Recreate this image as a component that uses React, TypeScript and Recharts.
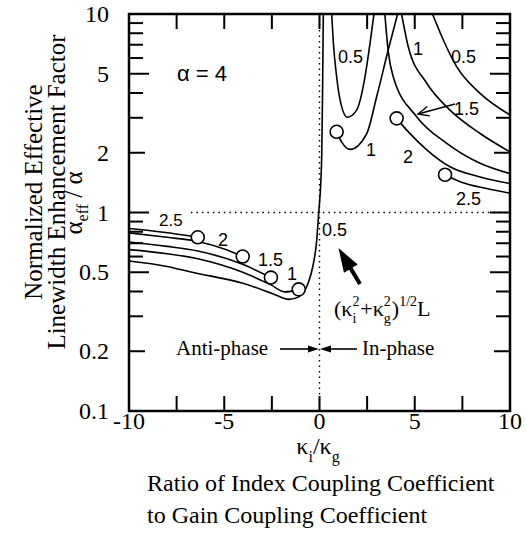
import React from 'react';
import { ComposedChart, Line, Scatter, XAxis, YAxis, ReferenceLine } from 'recharts';

const X_TICKS = [-10, -7.5, -5, -2.5, 0, 2.5, 5, 7.5, 10];
const X_LABELS = [-10, -5, 0, 5, 10];
const Y_TICKS = [0.1, 0.2, 0.3, 0.4, 0.5, 0.6, 0.7, 0.8, 0.9, 1, 2, 3, 4, 5, 6, 7, 8, 9, 10];
const Y_LABELS = [0.1, 0.2, 0.5, 1, 2, 5, 10];

// anti-phase side (kappa_i/kappa_g < 0), one list per (ki^2+kg^2)^1/2 L
const anti25 = [
  { x: -10, y: 0.83 }, { x: -8.2, y: 0.795 }, { x: -6.39, y: 0.75 },
];
const anti2 = [
  { x: -10, y: 0.79 }, { x: -8, y: 0.75 }, { x: -6.39, y: 0.715 }, { x: -5, y: 0.655 }, { x: -4.03, y: 0.6 },
];
const anti15 = [
  { x: -10, y: 0.71 }, { x: -8, y: 0.675 }, { x: -6.39, y: 0.64 }, { x: -4.03, y: 0.548 }, { x: -2.55, y: 0.47 },
];
const anti1 = [
  { x: -10, y: 0.65 }, { x: -8, y: 0.62 }, { x: -6.39, y: 0.585 }, { x: -4.03, y: 0.5 },
  { x: -2.55, y: 0.432 }, { x: -1.8, y: 0.398 }, { x: -1.09, y: 0.41 },
];
// 0.5 runs through zero up to the top
const main05 = [
  { x: -10, y: 0.57 }, { x: -8, y: 0.535 }, { x: -6.69, y: 0.5 }, { x: -4.03, y: 0.44 },
  { x: -2.45, y: 0.39 }, { x: -1.6, y: 0.365 }, { x: -1.06, y: 0.377 }, { x: -0.6, y: 0.44 },
  { x: -0.36, y: 0.53 }, { x: -0.15, y: 0.72 }, { x: -0.04, y: 1.0 }, { x: 0.08, y: 1.5 },
  { x: 0.12, y: 2.0 }, { x: 0.16, y: 4 }, { x: 0.2, y: 10 },
];

// in-phase side
const inU05 = [
  { x: 0.64, y: 10 }, { x: 0.73, y: 7.1 }, { x: 0.9, y: 4.83 }, { x: 1.08, y: 3.69 }, { x: 1.46, y: 3.02 },
  { x: 1.95, y: 3.28 }, { x: 2.39, y: 4.83 }, { x: 2.65, y: 7.1 }, { x: 2.86, y: 10 },
];
const inLow1 = [
  { x: 0.9, y: 2.55 }, { x: 1.16, y: 2.27 }, { x: 1.6, y: 2.08 }, { x: 2.48, y: 2.5 },
  { x: 3.0, y: 3.83 }, { x: 3.61, y: 6.6 }, { x: 4.1, y: 10 },
];
const in15 = [
  { x: 3.43, y: 10 }, { x: 3.61, y: 6.46 }, { x: 3.87, y: 4.83 }, { x: 5.1, y: 3.04 },
  { x: 6.68, y: 2.23 }, { x: 8.43, y: 1.77 }, { x: 10, y: 1.57 },
];
const in1 = [
  { x: 4.31, y: 10 }, { x: 4.66, y: 6.84 }, { x: 5.63, y: 4.48 }, { x: 6.85, y: 3.28 },
  { x: 8.43, y: 2.5 }, { x: 10, y: 2.02 },
];
const in05 = [
  { x: 5.93, y: 10 }, { x: 6.5, y: 7.4 }, { x: 7.2, y: 5.43 }, { x: 8.43, y: 3.98 }, { x: 10, y: 3.1 },
];
const in2 = [
  { x: 4.05, y: 2.98 }, { x: 4.58, y: 2.6 }, { x: 5.63, y: 2.07 }, { x: 6.85, y: 1.7 },
  { x: 8.43, y: 1.51 }, { x: 10, y: 1.4 },
];
const in25 = [
  { x: 6.59, y: 1.55 }, { x: 7.38, y: 1.43 }, { x: 8.78, y: 1.32 }, { x: 10, y: 1.25 },
];

const circles = [
  { x: -6.39, y: 0.75 }, { x: -4.03, y: 0.6 }, { x: -2.55, y: 0.47 }, { x: -1.09, y: 0.41 },
  { x: 0.9, y: 2.55 }, { x: 4.05, y: 2.98 }, { x: 6.59, y: 1.55 },
];

const SERIES = [anti25, anti2, anti15, anti1, inU05, inLow1, in15, in1, in05, in2, in25];

const W = 526;
const H = 536;
const PLOT = { left: 129, right: 510, top: 14, bottom: 411 };
const PX_PER_X = (PLOT.right - PLOT.left) / 20;
const PX_PER_DEC = (PLOT.bottom - PLOT.top) / 2;
const SERIF = '"Liberation Serif", "Times New Roman", serif';
const SANS = '"Liberation Sans", Arial, sans-serif';

// same mapping as the chart's axes, for the frame ticks
const sx = (x: number) => PLOT.left + (x + 10) * PX_PER_X;
const sy = (y: number) => PLOT.top + (1 - Math.log10(y)) * PX_PER_DEC;
const yTickLen = (v: number) => (v === 1 || v === 5 || v === 0.5 ? 20 : v === 2 || v === 0.2 ? 16 : 14);

const Ring = (p: any) => <circle cx={p.cx} cy={p.cy} r={6.5} fill="#fff" stroke="#000" strokeWidth={1.6} />;

function boldArrow(tx: number, ty: number, fx: number, fy: number, headLen: number, headHalf: number, shaft: number) {
  const dx = tx - fx;
  const dy = ty - fy;
  const len = Math.hypot(dx, dy);
  const ux = dx / len;
  const uy = dy / len;
  const nx = -uy;
  const ny = ux;
  const bx = tx - ux * headLen;
  const by = ty - uy * headLen;
  const pts = [
    [tx, ty],
    [bx + nx * headHalf, by + ny * headHalf],
    [bx + nx * shaft / 2, by + ny * shaft / 2],
    [fx + nx * shaft / 2, fy + ny * shaft / 2],
    [fx - nx * shaft / 2, fy - ny * shaft / 2],
    [bx - nx * shaft / 2, by - ny * shaft / 2],
    [bx - nx * headHalf, by - ny * headHalf],
  ];
  return pts.map((q) => q.join(',')).join(' ');
}

function openHead(tx: number, ty: number, fx: number, fy: number, len: number, ang: number) {
  const a = Math.atan2(fy - ty, fx - tx);
  const p1 = [tx + len * Math.cos(a + ang), ty + len * Math.sin(a + ang)];
  const p2 = [tx + len * Math.cos(a - ang), ty + len * Math.sin(a - ang)];
  return `M${p1[0]},${p1[1]} L${tx},${ty} L${p2[0]},${p2[1]}`;
}

const curveLabels = [
  { x: 338, y: 63, t: '0.5' },
  { x: 413, y: 55, t: '1' },
  { x: 451, y: 63, t: '0.5' },
  { x: 454, y: 115, t: '1.5' },
  { x: 366, y: 156, t: '1' },
  { x: 403, y: 163, t: '2' },
  { x: 456, y: 205, t: '2.5' },
  { x: 322, y: 236, t: '0.5' },
  { x: 159, y: 226, t: '2.5', s: 17 },
  { x: 218, y: 246, t: '2' },
  { x: 258, y: 266, t: '1.5' },
  { x: 287, y: 280, t: '1' },
];

export default function App() {
  return (
    <div style={{ position: 'absolute', left: 0, top: 0, width: W, height: H, background: '#fff' }}>
      <ComposedChart width={W} height={H} margin={{ top: 14, right: 16, bottom: 0, left: 0 }}>
        <XAxis
          dataKey="x"
          type="number"
          domain={[-10, 10]}
          ticks={X_TICKS}
          interval={0}
          allowDataOverflow
          height={125}
          tick={false}
          tickLine={false}
          axisLine={false}
        />
        <YAxis
          dataKey="y"
          type="number"
          scale="log"
          domain={[0.1, 10]}
          ticks={Y_TICKS}
          interval={0}
          allowDataOverflow
          width={129}
          tick={false}
          tickLine={false}
          axisLine={false}
        />
        <ReferenceLine x={0} stroke="#000" strokeWidth={1.4} strokeDasharray="1.5 4" ifOverflow="visible" />
        <ReferenceLine
          segment={[{ x: -6.75, y: 1 }, { x: 10, y: 1 }]}
          stroke="#000"
          strokeWidth={1.4}
          strokeDasharray="1.5 4"
          ifOverflow="visible"
        />
        {SERIES.map((d, i) => (
          <Line
            key={i}
            data={d}
            dataKey="y"
            type="monotone"
            stroke="#000"
            strokeWidth={1.6}
            dot={false}
            isAnimationActive={false}
          />
        ))}
        <Scatter data={circles} dataKey="y" shape={Ring} isAnimationActive={false} />
        <Line
          data={main05}
          dataKey="y"
          type="monotone"
          stroke="#000"
          strokeWidth={1.6}
          dot={false}
          isAnimationActive={false}
        />
      </ComposedChart>
      <svg width={W} height={H} style={{ position: 'absolute', left: 0, top: 0, pointerEvents: 'none' }}>
        {/* frame with inward ticks on all four sides */}
        <rect
          x={PLOT.left}
          y={PLOT.top}
          width={PLOT.right - PLOT.left}
          height={PLOT.bottom - PLOT.top}
          fill="none"
          stroke="#000"
          strokeWidth={2.5}
        />
        <g stroke="#000" strokeWidth={2}>
          {X_TICKS.slice(1, -1).map((t) => (
            <g key={`x${t}`}>
              <line x1={sx(t)} x2={sx(t)} y1={PLOT.bottom} y2={PLOT.bottom - 15} />
              <line x1={sx(t)} x2={sx(t)} y1={PLOT.top} y2={PLOT.top + 15} />
            </g>
          ))}
          {Y_TICKS.slice(1, -1).map((v) => (
            <g key={`y${v}`}>
              <line x1={PLOT.left} x2={PLOT.left + yTickLen(v)} y1={sy(v)} y2={sy(v)} />
              <line x1={PLOT.right} x2={PLOT.right - yTickLen(v)} y1={sy(v)} y2={sy(v)} />
            </g>
          ))}
        </g>
        <g style={{ fontFamily: SERIF, fontSize: 24 }} fill="#000">
          {X_LABELS.map((v) => (
            <text key={`xl${v}`} x={sx(v)} y={429} textAnchor="middle">
              {v}
            </text>
          ))}
          {Y_LABELS.map((v) => (
            <text key={`yl${v}`} x={109} y={sy(v) + 8} textAnchor="end">
              {v}
            </text>
          ))}
        </g>
        <g style={{ fontFamily: SERIF, fontSize: 25 }} fill="#000">
          <text transform="translate(42,192) rotate(-90)" textAnchor="middle">Normalized Effective</text>
          <text transform="translate(65,192) rotate(-90)" textAnchor="middle">Linewidth Enhancement Factor</text>
          <text transform="translate(82,203) rotate(-90)" textAnchor="middle">
            α<tspan fontSize={16} dy={6}>eff</tspan>
            <tspan dy={-6}> / α</tspan>
          </text>
          <text x={318} y={454} textAnchor="middle" style={{ fontSize: 24 }}>
            κ<tspan fontSize={16} dy={8}>i</tspan>
            <tspan dy={-8}>/κ</tspan>
            <tspan fontSize={16} dy={8}>g</tspan>
          </text>
          <text x={147} y={491} style={{ fontSize: 24 }}>Ratio of Index Coupling Coefficient</text>
          <text x={147} y={523} style={{ fontSize: 24 }}>to Gain Coupling Coefficient</text>
        </g>
        <text x={177} y={81} style={{ fontFamily: SANS, fontSize: 22 }}>α = 4</text>
        <g style={{ fontFamily: SANS }} fill="#000">
          {curveLabels.map((l, i) => (
            <text key={i} x={l.x} y={l.y} style={{ fontSize: l.s ?? 18 }}>
              {l.t}
            </text>
          ))}
        </g>
        <path d="M455,104 L418,114" stroke="#000" strokeWidth={1.4} fill="none" />
        <path d={openHead(418, 114, 455, 104, 12, 0.42)} stroke="#000" strokeWidth={1.4} fill="none" />
        <polygon points={boldArrow(338.5, 248, 360, 284, 24, 8, 4)} fill="#000" />
        <text x={334} y={316} style={{ fontFamily: SERIF, fontSize: 22 }}>
          (κ<tspan fontSize={14} dy={-10}>2</tspan>
          <tspan fontSize={14} dx={-7} dy={17}>i</tspan>
          <tspan dx={4} dy={-7}>+κ</tspan>
          <tspan fontSize={14} dy={-10}>2</tspan>
          <tspan fontSize={14} dx={-7} dy={17}>g</tspan>
          <tspan dx={1} dy={-7}>)</tspan>
          <tspan fontSize={14} dy={-10}>1/2</tspan>
          <tspan dy={10}>L</tspan>
        </text>
        <g style={{ fontFamily: SERIF, fontSize: 21 }} fill="#000">
          <text x={176} y={355}>Anti-phase</text>
          <text x={362} y={355}>In-phase</text>
        </g>
        <line x1={280} x2={312} y1={349} y2={349} stroke="#000" strokeWidth={1.6} />
        <polygon points="319,349 308,345.5 308,352.5" fill="#000" />
        <line x1={357} x2={327} y1={349} y2={349} stroke="#000" strokeWidth={1.6} />
        <polygon points="320,349 331,345.5 331,352.5" fill="#000" />
      </svg>
    </div>
  );
}
